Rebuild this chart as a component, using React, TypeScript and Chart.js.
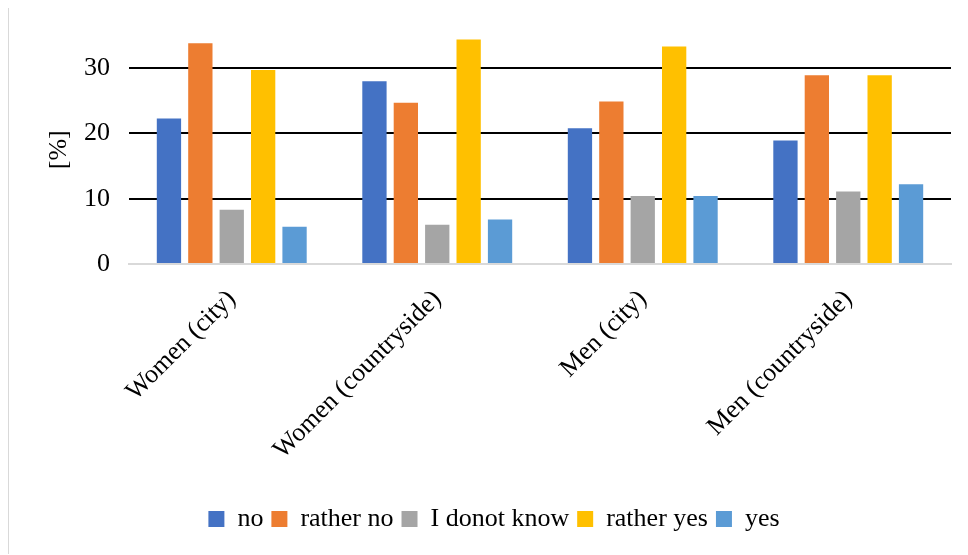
import React, { useEffect, useRef } from "react";
import { Chart, registerables } from "chart.js";

Chart.register(...registerables);

const categories = ["Women (city)", "Women (countryside)", "Men (city)", "Men (countryside)"];
const seriesNames = ["no", "rather no", "I donot know", "rather yes", "yes"];
const noValues = [22.3, 28.0, 20.8, 18.9];
const ratherNoValues = [33.8, 24.7, 24.9, 28.9];
const dontKnowValues = [8.3, 6.0, 10.4, 11.1];
const ratherYesValues = [29.7, 34.4, 33.3, 28.9];
const yesValues = [5.7, 6.8, 10.4, 12.2];
const seriesColors = ["#4472C4", "#ED7D31", "#A5A5A5", "#FFC000", "#5B9BD5"];
const yTicks = [0, 10, 20, 30];

const FONT = "'Liberation Serif', 'Times New Roman', serif";
const FS = 26;

export default function App() {
  const ref = useRef<HTMLCanvasElement | null>(null);
  useEffect(() => {
    if (!ref.current) return;
    const values = [noValues, ratherNoValues, dontKnowValues, ratherYesValues, yesValues];
    const chart = new Chart(ref.current, {
      type: "bar",
      data: {
        labels: categories,
        datasets: seriesNames.map((name, i) => ({
          label: name,
          data: values[i],
          backgroundColor: seriesColors[i],
          borderWidth: 0,
          categoryPercentage: 0.764,
          barPercentage: 0.774,
        })),
      },
      options: {
        animation: false,
        responsive: false,
        maintainAspectRatio: false,
        layout: { padding: { left: 28, right: 17, top: 27.5, bottom: 12 } },
        plugins: {
          legend: {
            position: "bottom",
            labels: {
              font: { family: FONT, size: FS },
              color: "#000",
              boxWidth: 16,
              boxHeight: 16,
              padding: 8,
            },
          },
          tooltip: { enabled: false },
        },
        scales: {
          x: {
            grid: { display: false, drawTicks: false },
            border: { display: true, color: "#d9d9d9", width: 2 },
            ticks: {
              font: { family: FONT, size: FS },
              color: "#000",
              minRotation: 45,
              maxRotation: 45,
              padding: 20,
            },
            afterFit: (scale: any) => {
              scale.height = 234;
            },
          },
          y: {
            min: 0,
            max: 35,
            afterBuildTicks: (scale: any) => {
              scale.ticks = yTicks.map((v) => ({ value: v }));
            },
            afterFit: (scale: any) => {
              scale.width = 92;
              scale.paddingTop = 0;
              scale.paddingBottom = 0;
            },
            grid: {
              drawTicks: false,
              lineWidth: 2,
              color: (ctx: any) => (ctx.tick && ctx.tick.value === 0 ? "#d9d9d9" : "#000"),
            },
            border: { display: false },
            ticks: {
              font: { family: FONT, size: FS },
              color: "#000",
              padding: 19,
            },
            title: {
              display: true,
              text: "[%]",
              font: { family: FONT, size: FS },
              color: "#000",
              padding: { top: 7, bottom: 0 },
            },
          },
        },
      },
    });
    return () => chart.destroy();
  }, []);
  return (
    <div
      style={{
        width: 960,
        height: 547,
        boxSizing: "border-box",
        borderLeft: "1px solid #d9d9d9",
        borderTop: "1px solid #d9d9d9",
        marginTop: -1,
        background: "#fff",
      }}
    >
      <canvas ref={ref} width={959} height={546} style={{ display: "block" }} />
    </div>
  );
}
